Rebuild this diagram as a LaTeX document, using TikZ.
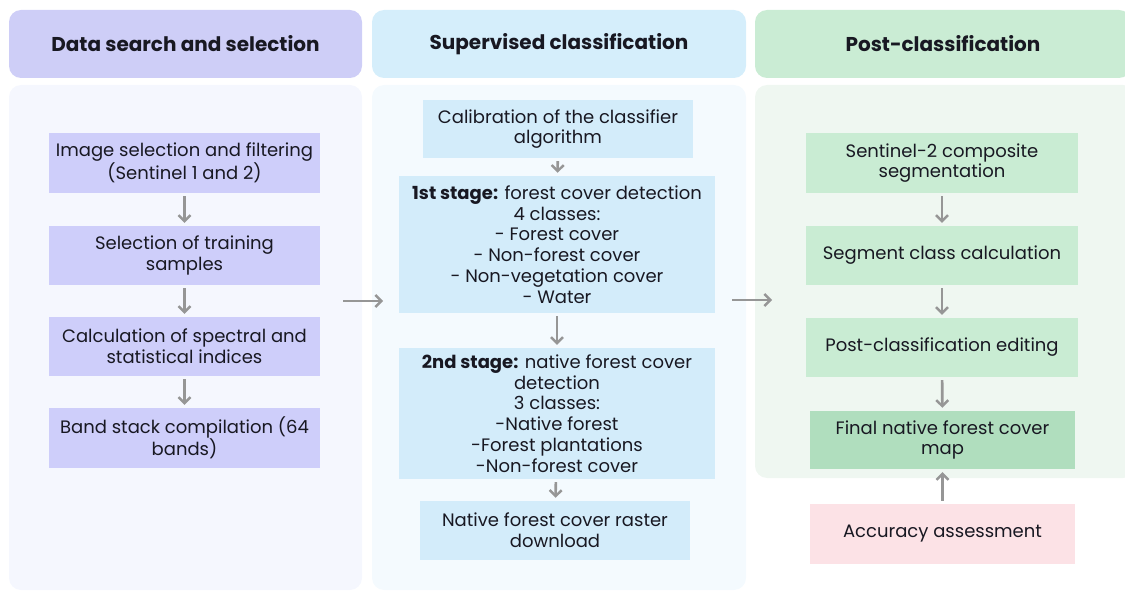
\documentclass[tikz,border=0pt]{standalone}
\usepackage{fontspec}
\setmainfont{Poppins}
\usetikzlibrary{arrows.meta}
\definecolor{ink}{RGB}{24,24,34}
\definecolor{arrowgray}{RGB}{150,150,150}
\definecolor{lavhead}{RGB}{206,206,247}
\definecolor{lavbox}{RGB}{206,206,250}
\definecolor{lavback}{RGB}{245,247,254}
\definecolor{bluehead}{RGB}{213,238,251}
\definecolor{bluebox}{RGB}{211,236,250}
\definecolor{blueback}{RGB}{244,250,254}
\definecolor{greenhead}{RGB}{202,236,212}
\definecolor{greenbox}{RGB}{201,236,211}
\definecolor{greendark}{RGB}{176,222,190}
\definecolor{greenback}{RGB}{239,247,241}
\definecolor{pinkbox}{RGB}{252,226,230}
\begin{document}
\begin{tikzpicture}[x=1pt,y=-1pt]
  \tikzset{stepbox/.style={fill=#1,inner sep=0pt,align=center,minimum height=59pt,minimum width=271pt,text=ink,font=\fontsize{18}{20.7}\selectfont},
    headbox/.style={fill=#1,rounded corners=12pt,inner sep=0pt,minimum height=68pt,text=ink,font=\fontsize{20}{24}\selectfont\bfseries},
    flow/.style={draw=arrowgray,line width=2.6pt,-{Straight Barb[length=6pt,width=12pt,line width=2.4pt]},shorten <=3pt,shorten >=3pt}}
  \useasboundingbox (0,0) rectangle (1125,596);

  % panels
  \fill[lavback,rounded corners=12pt] (9,85) rectangle (362,590);
  \fill[blueback,rounded corners=12pt] (372,85) rectangle (746,590);
  \fill[greenback,rounded corners=12pt] (755,85) rectangle (1135,478);

  \node [headbox=lavhead,minimum width=353pt] (H1) at (185.5,44) {Data search and selection};
  \node [headbox=bluehead,minimum width=374pt] (H2) at (559,44) {Supervised classification};
  \node [headbox=greenhead,minimum width=376pt] (H3) at (943,44) {Post-classification};

  % data search and selection
  \node [stepbox=lavbox,minimum height=60pt] (A1) at (184.5,163) {Image selection and filtering\\(Sentinel 1 and 2)};
  \node [stepbox=lavbox] (A2) at (184.5,255.5) {Selection of training\\samples};
  \node [stepbox=lavbox] (A3) at (184.5,346.5) {Calculation of spectral and\\statistical indices};
  \node [stepbox=lavbox,minimum height=60pt] (A4) at (184.5,438) {Band stack compilation (64\\bands)};

  % supervised classification
  \node [stepbox=bluebox,minimum width=270pt,minimum height=58pt] (B1) at (558,129) {Calibration of the classifier\\algorithm};
  \node [stepbox=bluebox,minimum width=316pt,minimum height=137pt] (B2) at (557,244.5) {\textbf{1st stage:} forest cover detection\\4 classes:\\- Forest cover\\- Non-forest cover\\- Non-vegetation cover\\- Water};
  \node [stepbox=bluebox,minimum width=316pt,minimum height=131pt] (B3) at (557,413.5) {\textbf{2nd stage:} native forest cover\\detection\\3 classes:\\-Native forest\\-Forest plantations\\-Non-forest cover};
  \node [stepbox=bluebox,minimum width=270pt] (B4) at (555,530.5) {Native forest cover raster\\download};

  % post-classification
  \node [stepbox=greenbox,minimum width=272pt,minimum height=60pt] (C1) at (942,163) {Sentinel-2 composite\\segmentation};
  \node [stepbox=greenbox,minimum width=272pt] (C2) at (942,255.5) {Segment class calculation};
  \node [stepbox=greenbox,minimum width=272pt] (C3) at (942,347.5) {Post-classification editing};
  \node [stepbox=greendark,minimum width=265pt,minimum height=58pt] (C4) at (942.5,440) {Final native forest cover\\map};
  \node [stepbox=pinkbox,minimum width=265pt,minimum height=60pt] (C5) at (942.5,534) {Accuracy assessment};

  \coordinate (L1) at (343,301);
  \coordinate (L2) at (383,301);
  \coordinate (R1) at (732,300);
  \coordinate (R2) at (772,300);

  \draw[flow] (A1) -- (A2);
  \draw[flow] (A2) -- (A3);
  \draw[flow] (A3) -- (A4);
  \draw[flow] (B1) -- (B2);
  \draw[flow] (B2) -- (B3);
  \draw[flow] (B3) -- (B4);
  \draw[flow] (C1) -- (C2);
  \draw[flow] (C2) -- (C3);
  \draw[flow] (C3) -- (C4);
  \draw[flow] (C5) -- (C4);
  \draw[flow,shorten <=0pt,shorten >=0pt] (L1) -- (L2);
  \draw[flow,shorten <=0pt,shorten >=0pt] (R1) -- (R2);
\end{tikzpicture}
\end{document}
